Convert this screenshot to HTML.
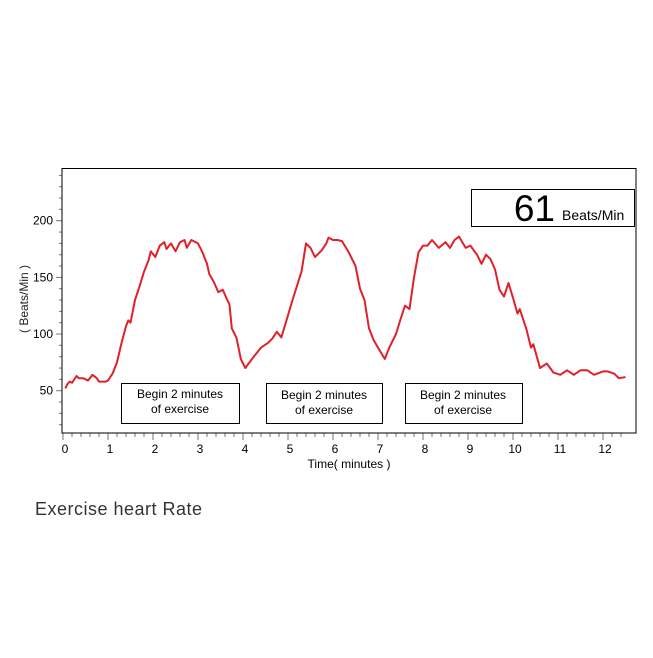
<!DOCTYPE html>
<html><head><style>
body{margin:0;background:#fff;}
svg text{font-family:"Liberation Sans",sans-serif;}
</style></head><body>
<svg id="s" width="653" height="653" xmlns="http://www.w3.org/2000/svg">
<rect width="653" height="653" fill="#fff"/>
<g id="ax"></g>
<rect x="62" y="168.5" width="574" height="264.5" fill="none" stroke="#000" stroke-width="1"/>
<polyline id="line" fill="none" stroke="#e0202a" stroke-width="2" stroke-linejoin="round"/>
<rect x="121.5" y="383.5" width="118" height="40" fill="#fff" stroke="#000"/>
<text x="180" y="398" font-size="12" text-anchor="middle">Begin 2 minutes</text>
<text x="180" y="413" font-size="12" text-anchor="middle">of exercise</text>
<rect x="266.5" y="383.5" width="116" height="40" fill="#fff" stroke="#000"/>
<text x="324" y="399" font-size="12" text-anchor="middle">Begin 2 minutes</text>
<text x="324" y="414" font-size="12" text-anchor="middle">of exercise</text>
<rect x="405.5" y="383.5" width="117" height="40" fill="#fff" stroke="#000"/>
<text x="463" y="399" font-size="12" text-anchor="middle">Begin 2 minutes</text>
<text x="463" y="414" font-size="12" text-anchor="middle">of exercise</text>
<rect x="471.5" y="189.5" width="163" height="37" fill="#fff" stroke="#000"/>
<text x="555" y="221" font-size="37" text-anchor="end">61</text>
<text x="562" y="220" font-size="14">Beats/Min</text>
<text x="349" y="468" font-size="12" text-anchor="middle">Time( minutes )</text>
<text transform="translate(28,299) rotate(-90)" font-size="12" text-anchor="middle" fill="#222">( Beats/Min )</text>
<text x="35" y="515" font-size="18" fill="#333" letter-spacing="0.5">Exercise heart Rate</text>
</svg>
<script>
var X=m=>63+m*45, Y=v=>390.7-(v-50)*1.1333;
var ax=document.getElementById('ax'),h='';
for(var v=20;v<=240;v+=10){var y=Y(v),maj=v%50==0;h+='<line x1="'+(maj?56:59)+'" x2="62" y1="'+y+'" y2="'+y+'" stroke="#777"/>';
if(maj&&v>=50&&v<=200)h+='<text x="53" y="'+(y+4)+'" font-size="12" text-anchor="end">'+v+'</text>';}
for(var i=0;i<=62;i++){var m=i*0.2,x=X(m),maj=i%5==0;if(x>636)break;h+='<line x1="'+x+'" x2="'+x+'" y1="433" y2="'+(maj?440:437)+'" stroke="#777"/>';
if(maj)h+='<text x="'+(x+2)+'" y="453" font-size="12" text-anchor="middle">'+(i/5)+'</text>';}
ax.innerHTML=h;
var d=[0.05,52,0.1,56,0.15,58,0.2,57,0.3,63,0.35,61,0.45,61,0.55,59,0.6,61,0.65,64,0.75,61,0.8,58,0.95,58,1.0,59,1.1,65,1.2,75,1.3,92,1.4,107,1.45,112,1.5,110,1.6,130,1.7,142,1.8,155,1.9,165,1.95,173,2.05,168,2.15,178,2.25,181,2.3,175,2.4,180,2.5,173,2.6,181,2.7,183,2.75,176,2.85,183,3.0,180,3.1,172,3.2,162,3.25,153,3.35,146,3.45,137,3.55,139,3.65,130,3.7,126,3.75,105,3.85,97,3.9,88,3.95,78,4.05,70,4.2,78,4.4,88,4.55,92,4.65,96,4.75,102,4.85,97,4.95,110,5.1,130,5.3,155,5.4,180,5.5,176,5.6,168,5.75,174,5.85,180,5.9,185,6.0,183,6.1,183,6.2,182,6.35,172,6.5,160,6.6,140,6.7,130,6.8,105,6.9,95,7.0,88,7.15,78,7.25,88,7.4,100,7.5,113,7.6,125,7.7,122,7.8,150,7.9,172,8.0,178,8.1,178,8.2,183,8.35,176,8.5,181,8.6,176,8.7,183,8.8,186,8.95,176,9.05,178,9.2,170,9.3,162,9.4,170,9.5,166,9.6,157,9.7,139,9.8,133,9.9,145,10.0,132,10.1,118,10.15,122,10.3,104,10.4,88,10.45,91,10.6,70,10.75,74,10.9,66,11.05,64,11.2,68,11.35,64,11.5,68,11.65,68,11.8,64,12.0,67,12.1,67,12.25,65,12.35,61,12.5,62];
var p=[];for(var i=0;i<d.length;i+=2)p.push(X(d[i]).toFixed(1)+','+Y(d[i+1]).toFixed(1));
document.getElementById('line').setAttribute('points',p.join(' '));
</script>
</body></html>
